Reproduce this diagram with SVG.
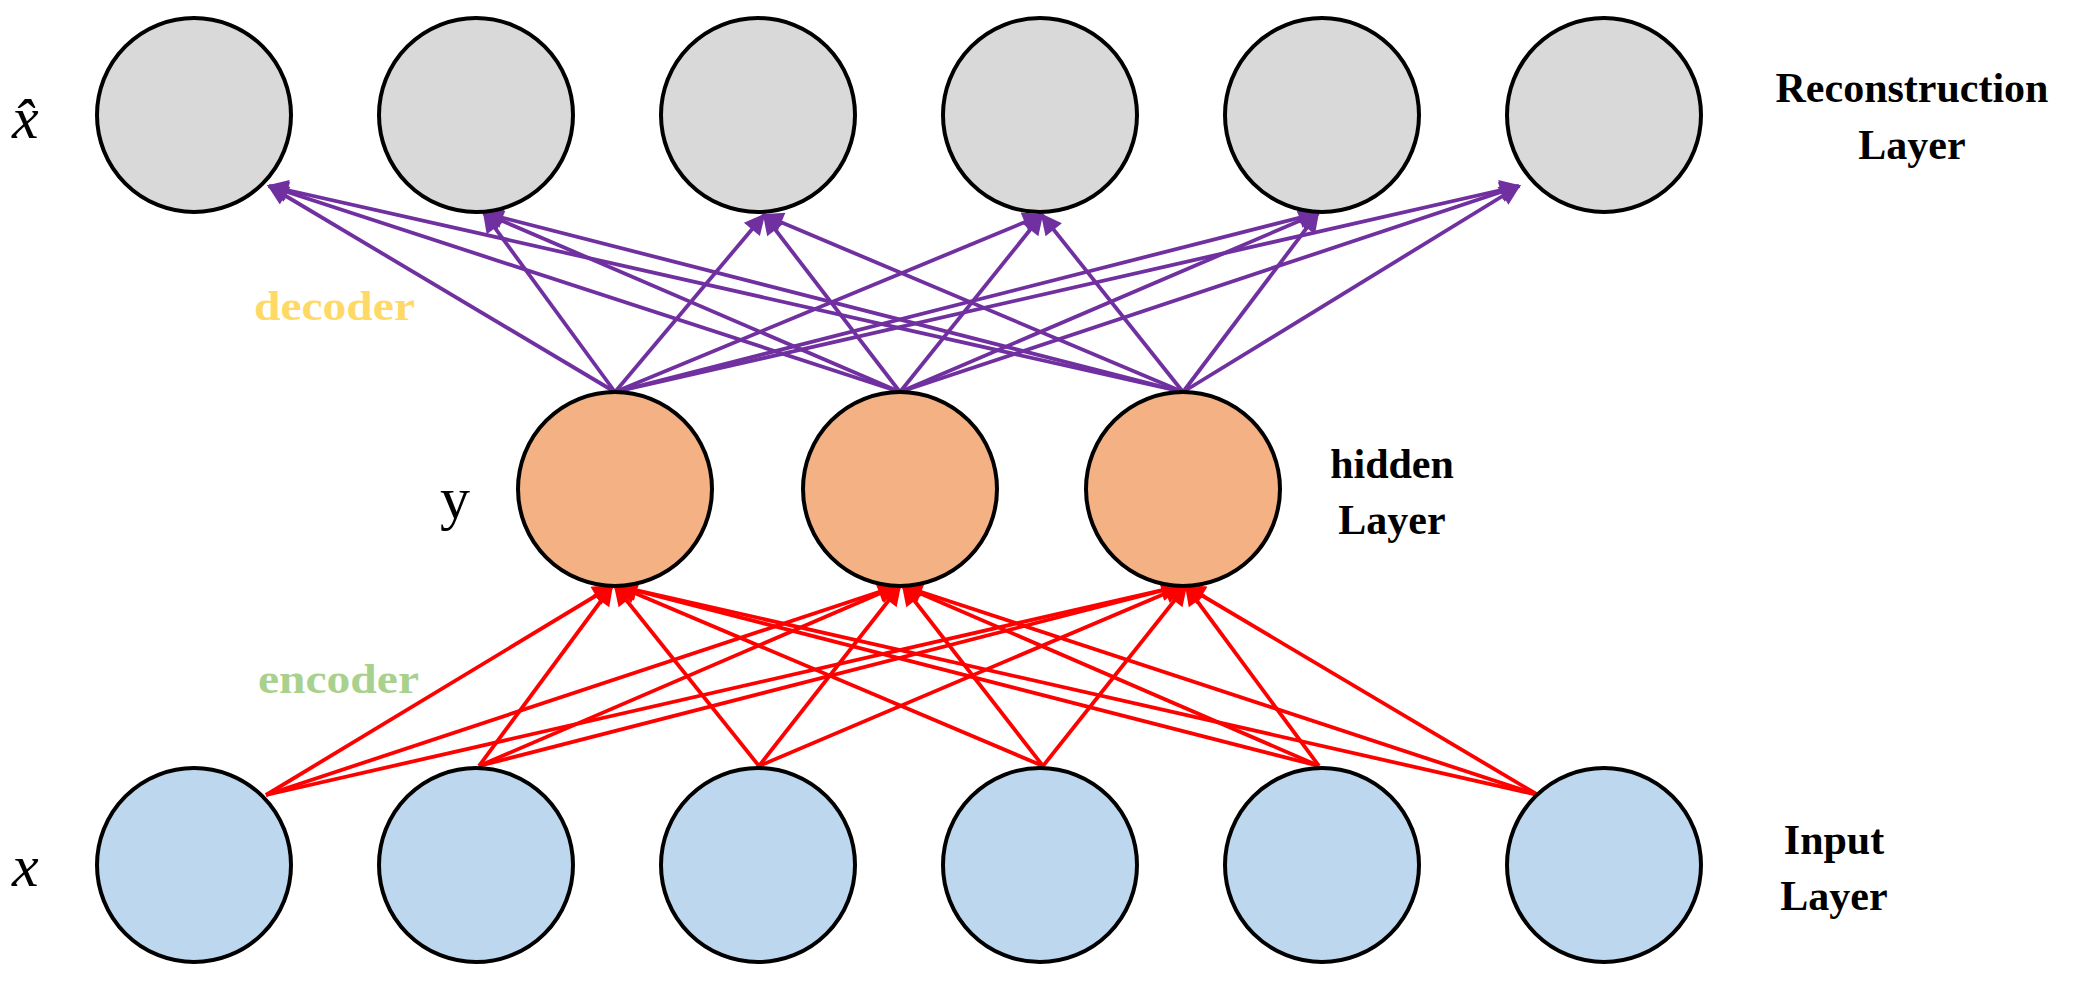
<svg xmlns="http://www.w3.org/2000/svg" width="2088" height="996" viewBox="0 0 2088 996">
<style>
.n{stroke:#000;stroke-width:4}
.top{fill:#D9D9D9}.hid{fill:#F4B183}.inp{fill:#BDD7EE}
.lbl{font-family:"Liberation Serif",serif;font-weight:bold;font-size:42px;text-anchor:middle;fill:#000}
.sym{font-family:"Liberation Serif",serif;font-style:italic;font-size:60px;fill:#000}
.dec line{stroke:#7030A0;stroke-width:3.8;marker-end:url(#ap)}
.enc line{stroke:#FF0000;stroke-width:3.8;marker-end:url(#ar)}
</style>
<defs>
<marker id="ap" viewBox="0 0 10 10" refX="9" refY="5" markerWidth="6.5" markerHeight="5.5" orient="auto" markerUnits="strokeWidth"><path d="M0,0L10,5L0,10z" fill="#7030A0"/></marker>
<marker id="ar" viewBox="0 0 10 10" refX="9" refY="5" markerWidth="6.5" markerHeight="5.5" orient="auto" markerUnits="strokeWidth"><path d="M0,0L10,5L0,10z" fill="#FF0000"/></marker>
</defs>
<rect width="2088" height="996" fill="#fff"/>
<g id="connectors">
<g id="decoder-lines" class="dec">
<line x1="615" y1="392" x2="269" y2="186"/><line x1="615" y1="392" x2="484" y2="213"/><line x1="615" y1="392" x2="764" y2="215"/><line x1="615" y1="392" x2="1042" y2="215"/><line x1="615" y1="392" x2="1318" y2="213"/><line x1="615" y1="392" x2="1519" y2="186"/>
<line x1="900" y1="392" x2="269" y2="186"/><line x1="900" y1="392" x2="484" y2="213"/><line x1="900" y1="392" x2="764" y2="215"/><line x1="900" y1="392" x2="1042" y2="215"/><line x1="900" y1="392" x2="1318" y2="213"/><line x1="900" y1="392" x2="1519" y2="186"/>
<line x1="1183" y1="392" x2="269" y2="186"/><line x1="1183" y1="392" x2="484" y2="213"/><line x1="1183" y1="392" x2="764" y2="215"/><line x1="1183" y1="392" x2="1042" y2="215"/><line x1="1183" y1="392" x2="1318" y2="213"/><line x1="1183" y1="392" x2="1519" y2="186"/>
</g>
<g id="encoder-lines" class="enc">
<line x1="266" y1="795" x2="612" y2="586"/><line x1="266" y1="795" x2="897" y2="586"/><line x1="266" y1="795" x2="1180" y2="586"/>
<line x1="479" y1="766" x2="612" y2="586"/><line x1="479" y1="766" x2="897" y2="586"/><line x1="479" y1="766" x2="1180" y2="586"/>
<line x1="759" y1="766" x2="615" y2="586"/><line x1="759" y1="766" x2="900" y2="586"/><line x1="759" y1="766" x2="1183" y2="586"/>
<line x1="1043" y1="766" x2="618" y2="586"/><line x1="1043" y1="766" x2="903" y2="586"/><line x1="1043" y1="766" x2="1186" y2="586"/>
<line x1="1319" y1="766" x2="618" y2="586"/><line x1="1319" y1="766" x2="903" y2="586"/><line x1="1319" y1="766" x2="1186" y2="586"/>
<line x1="1538" y1="795" x2="618" y2="586"/><line x1="1538" y1="795" x2="903" y2="586"/><line x1="1538" y1="795" x2="1186" y2="586"/>
</g>
</g>
<g id="top1"><circle class="n top" cx="194" cy="115" r="97"/></g>
<g id="top2"><circle class="n top" cx="476" cy="115" r="97"/></g>
<g id="top3"><circle class="n top" cx="758" cy="115" r="97"/></g>
<g id="top4"><circle class="n top" cx="1040" cy="115" r="97"/></g>
<g id="top5"><circle class="n top" cx="1322" cy="115" r="97"/></g>
<g id="top6"><circle class="n top" cx="1604" cy="115" r="97"/></g>
<g id="hid1"><circle class="n hid" cx="615" cy="489" r="97"/></g>
<g id="hid2"><circle class="n hid" cx="900" cy="489" r="97"/></g>
<g id="hid3"><circle class="n hid" cx="1183" cy="489" r="97"/></g>
<g id="in1"><circle class="n inp" cx="194" cy="865" r="97"/></g>
<g id="in2"><circle class="n inp" cx="476" cy="865" r="97"/></g>
<g id="in3"><circle class="n inp" cx="758" cy="865" r="97"/></g>
<g id="in4"><circle class="n inp" cx="1040" cy="865" r="97"/></g>
<g id="in5"><circle class="n inp" cx="1322" cy="865" r="97"/></g>
<g id="in6"><circle class="n inp" cx="1604" cy="865" r="97"/></g>
<g id="labels">
<text class="sym" x="12" y="138">x̂</text>
<text class="sym" x="440" y="518" style="font-style:normal">y</text>
<text class="sym" x="12" y="886">x</text>
<text class="lbl" x="1912" y="102">Reconstruction</text>
<text class="lbl" x="1912" y="159">Layer</text>
<text class="lbl" x="1392" y="478">hidden</text>
<text class="lbl" x="1392" y="534">Layer</text>
<text class="lbl" x="1834" y="854">Input</text>
<text class="lbl" x="1834" y="910">Layer</text>
<text x="254" y="320" font-family="Liberation Serif,serif" font-weight="bold" font-size="42" fill="#FFD966" textLength="161" lengthAdjust="spacingAndGlyphs">decoder</text>
<text x="258" y="693" font-family="Liberation Serif,serif" font-weight="bold" font-size="42" fill="#A9D18E" textLength="161" lengthAdjust="spacingAndGlyphs">encoder</text>
</g>
</svg>
